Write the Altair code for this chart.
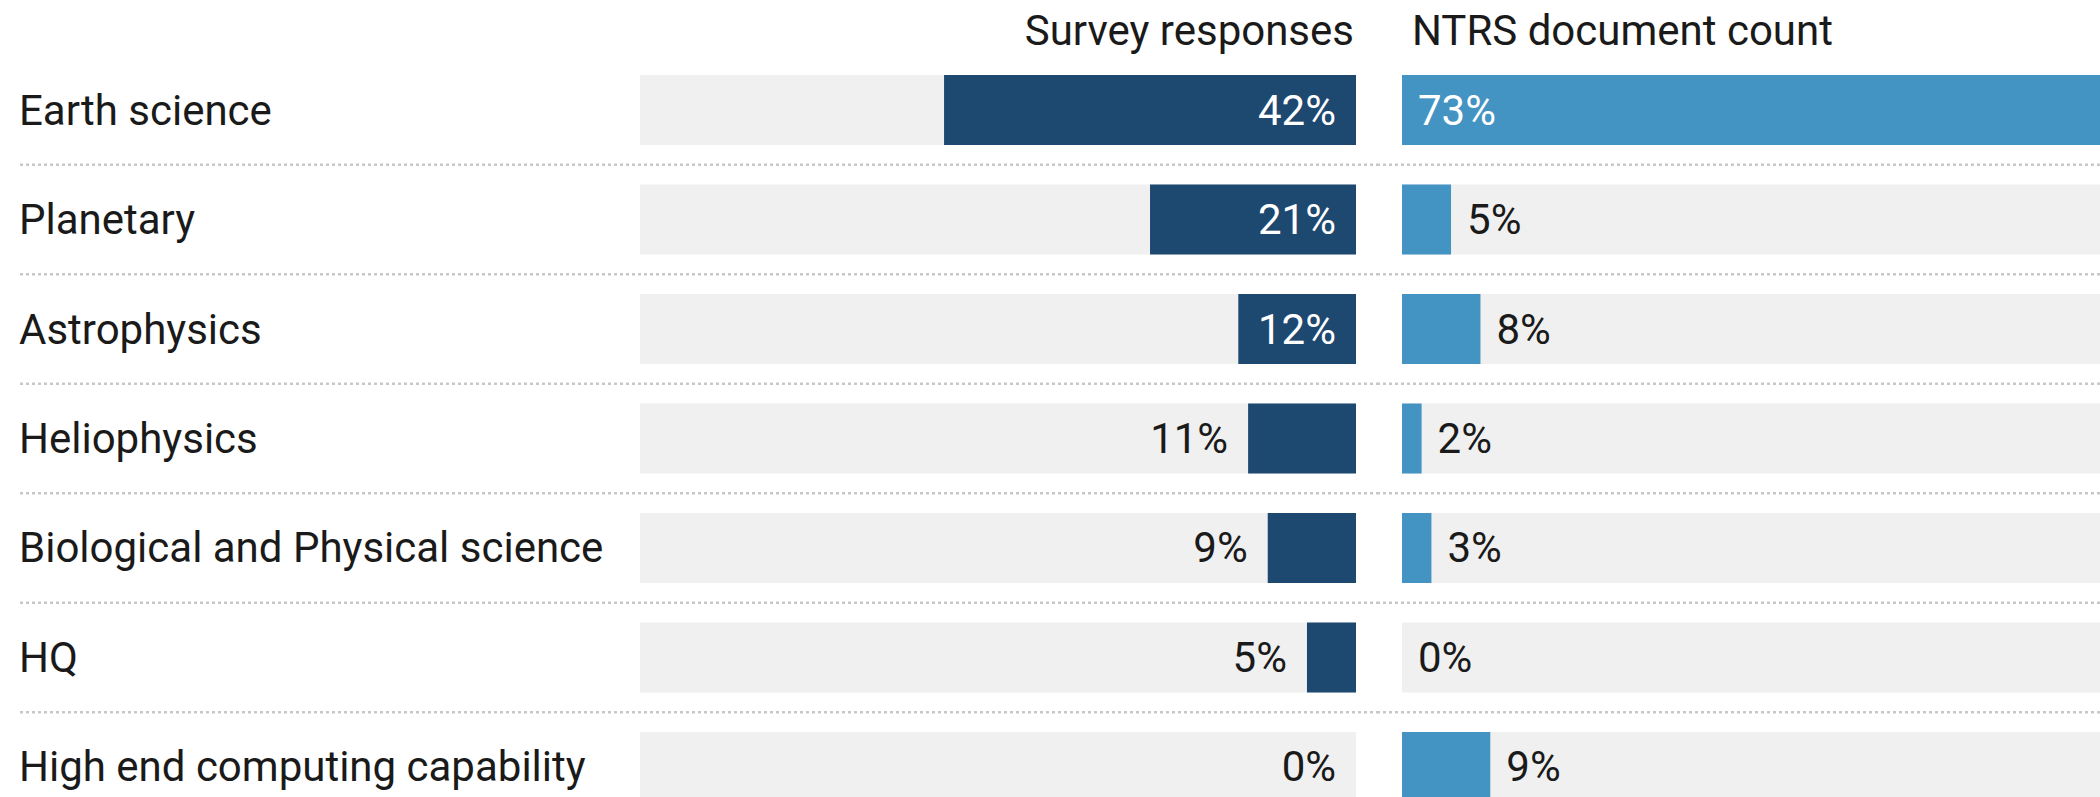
import altair as alt
import pandas as pd

# ---- data ----
categories = [
    "Earth science",
    "Planetary",
    "Astrophysics",
    "Heliophysics",
    "Biological and Physical science",
    "HQ",
    "High end computing capability",
]
survey_responses = [42, 21, 12, 11, 9, 5, 0]
ntrs_document_count = [73, 5, 8, 2, 3, 0, 9]
panel_titles = ["Survey responses", "NTRS document count"]

df = pd.DataFrame({
    "category": categories,
    "survey": survey_responses,
    "ntrs": ntrs_document_count,
})

# ---- style ----
X_MAX = 73
INSIDE_MIN = 12
FONT = "Roboto"
FS = 42
DARK = "#1d4870"
LIGHT = "#4393c3"
BG = "#f0f0f0"
TEXT = "#1a1a1a"
SEP = "#c8c8c8"
H = 797

y_scale = alt.Scale(domain=categories, range=[0, 877], paddingInner=0.3607, paddingOuter=0.685)
Y = alt.Y("category:N", scale=y_scale, axis=None, sort=categories)
Ysep = alt.Y("category:N", scale=y_scale, axis=None, sort=categories, bandPosition=1)

base = alt.Chart(df).transform_calculate(
    full=str(X_MAX),
    zero="0",
    survey_label="datum.survey + '%'",
    ntrs_label="datum.ntrs + '%'",
)

sep_kw = dict(strokeDash=[3, 3], strokeWidth=2.5, color=SEP, yOffset=19.75, clip=True)
txt_kw = dict(font=FONT, fontSize=FS, baseline="middle", dy=1.5, clip=True)

# ---- panel A: category labels ----
sep_a = base.mark_rule(**sep_kw).encode(y=Ysep, x=alt.value(20), x2=alt.value(640))
labels_a = base.mark_text(align="left", color=TEXT, **txt_kw).encode(
    y=Y, x=alt.value(19), text="category:N"
)
panel_a = alt.layer(sep_a, labels_a).properties(width=640, height=H)

# ---- panel B: survey responses (right to left) ----
xb = alt.Scale(domain=[0, X_MAX], range=[716, 0])
sep_b = base.mark_rule(**sep_kw).encode(y=Ysep)
bg_b = base.mark_bar(color=BG, clip=True).encode(
    y=Y, x=alt.X("full:Q", scale=xb, axis=None), x2="zero:Q"
)
bar_b = base.mark_bar(color=DARK, clip=True).encode(
    y=Y, x=alt.X("survey:Q", scale=xb, axis=None), x2="zero:Q"
)
in_b = base.transform_filter(f"datum.survey >= {INSIDE_MIN}").mark_text(
    align="right", dx=-20, color="white", **txt_kw
).encode(y=Y, x=alt.X("zero:Q", scale=xb, axis=None), text="survey_label:N")
out_b = base.transform_filter(f"datum.survey < {INSIDE_MIN}").mark_text(
    align="right", dx=-20, color=TEXT, **txt_kw
).encode(y=Y, x=alt.X("survey:Q", scale=xb, axis=None), text="survey_label:N")
head_b = alt.Chart(pd.DataFrame({"t": [panel_titles[0]]})).mark_text(
    align="right", baseline="alphabetic", font=FONT, fontSize=FS, color=TEXT
).encode(text="t:N", x=alt.value(714), y=alt.value(45))
panel_b = alt.layer(bg_b, bar_b, sep_b, in_b, out_b, head_b).properties(width=739, height=H)

# ---- panel C: NTRS document count (left to right) ----
xc = alt.Scale(domain=[0, X_MAX], range=[23, 739])
sep_c = base.mark_rule(**sep_kw).encode(y=Ysep)
bg_c = base.mark_bar(color=BG, clip=True).encode(
    y=Y, x=alt.X("full:Q", scale=xc, axis=None), x2="zero:Q"
)
bar_c = base.mark_bar(color=LIGHT, clip=True).encode(
    y=Y, x=alt.X("ntrs:Q", scale=xc, axis=None), x2="zero:Q"
)
in_c = base.transform_filter(f"datum.ntrs >= {INSIDE_MIN}").mark_text(
    align="left", dx=16, color="white", **txt_kw
).encode(y=Y, x=alt.X("zero:Q", scale=xc, axis=None), text="ntrs_label:N")
out_c = base.transform_filter(f"datum.ntrs < {INSIDE_MIN}").mark_text(
    align="left", dx=16, color=TEXT, **txt_kw
).encode(y=Y, x=alt.X("ntrs:Q", scale=xc, axis=None), text="ntrs_label:N")
head_c = alt.Chart(pd.DataFrame({"t": [panel_titles[1]]})).mark_text(
    align="left", baseline="alphabetic", font=FONT, fontSize=FS, color=TEXT
).encode(text="t:N", x=alt.value(33), y=alt.value(45))
panel_c = alt.layer(bg_c, bar_c, sep_c, in_c, out_c, head_c).properties(width=721, height=H)

chart = alt.hconcat(panel_a, panel_b, panel_c, spacing=0, bounds="flush").properties(
    padding=0, background="white"
).configure_view(stroke=None)

chart.save("out.html", embed_options={"renderer": "svg", "actions": False})
